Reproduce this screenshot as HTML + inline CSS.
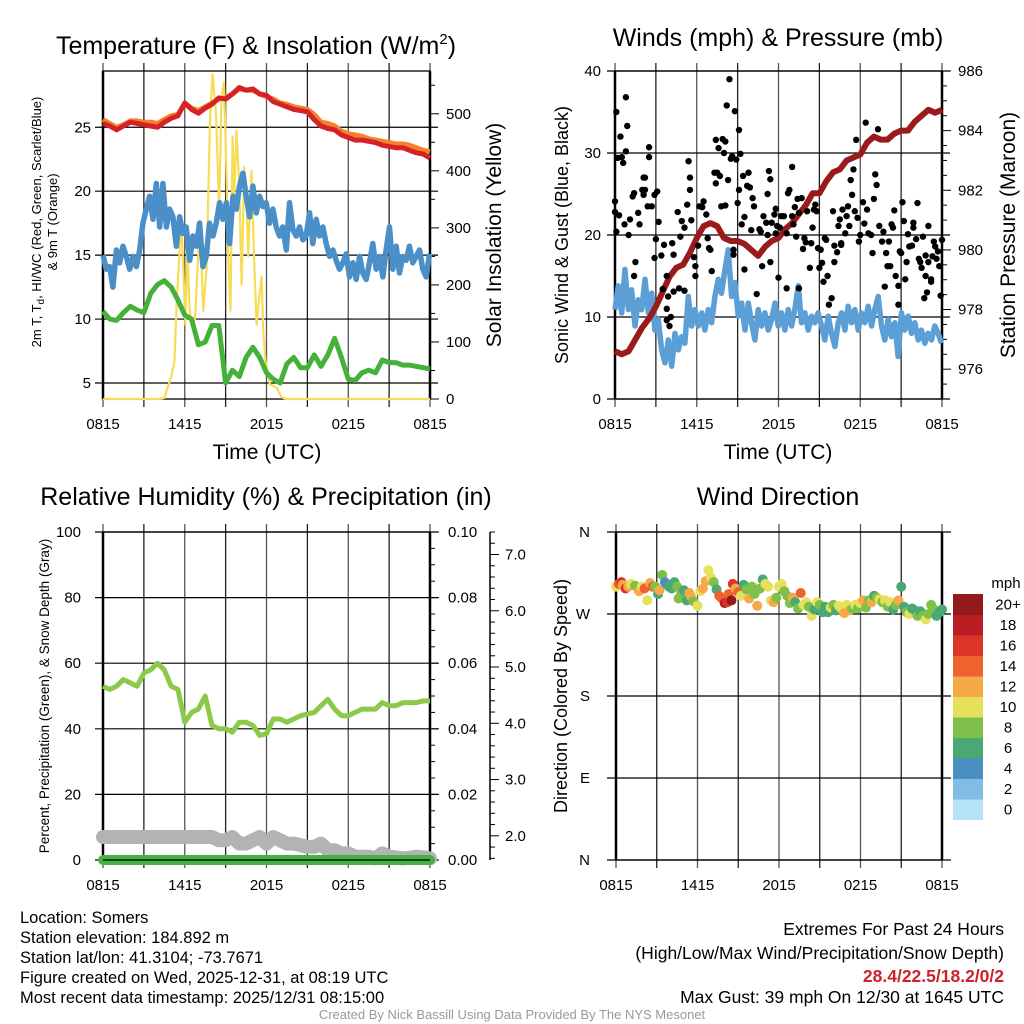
<!DOCTYPE html>
<html><head><meta charset="utf-8">
<style>
html,body{margin:0;padding:0;background:#fff;}
svg{display:block;font-family:"Liberation Sans",sans-serif;}
.ft{font-family:"Liberation Sans",sans-serif;font-size:16.5px;fill:#000;}
.fr{font-family:"Liberation Sans",sans-serif;font-size:17.5px;fill:#000;}
</style></head>
<body>
<svg id="c" width="1024" height="1024" viewBox="0 0 1024 1024" xmlns="http://www.w3.org/2000/svg">
<text class="ft" x="20" y="923">Location: Somers</text>
<text class="ft" x="20" y="943">Station elevation: 184.892 m</text>
<text class="ft" x="20" y="963">Station lat/lon: 41.3104; -73.7671</text>
<text class="ft" x="20" y="983">Figure created on Wed, 2025-12-31, at 08:19 UTC</text>
<text class="ft" x="20" y="1003">Most recent data timestamp: 2025/12/31 08:15:00</text>
<text class="fr" x="1004" y="935" text-anchor="end">Extremes For Past 24 Hours</text>
<text class="fr" x="1004" y="959" text-anchor="end">(High/Low/Max Wind/Precipitation/Snow Depth)</text>
<text class="fr" x="1004" y="982" text-anchor="end" style="fill:#cc2229;font-weight:bold">28.4/22.5/18.2/0/2</text>
<text class="fr" x="1004" y="1003" text-anchor="end">Max Gust: 39 mph On 12/30 at 1645 UTC</text>
<text class="ft" x="512" y="1019" text-anchor="middle" style="fill:#999;font-size:13px">Created By Nick Bassill Using Data Provided By The NYS Mesonet</text>
</svg>
<script>
const timeLabels=["0815","1415","2015","0215","0815"];
// Temperature panel (hours since 0815)
const tTimes=[0,0.5,1,1.5,2,2.5,3,3.5,4,4.5,5,5.5,6,6.5,7,7.5,8,8.5,9,9.5,10,10.5,11,11.5,12,12.5,13,13.5,14,14.5,15,15.5,16,16.5,17,17.5,18,18.5,19,19.5,20,20.5,21,21.5,22,22.5,23,23.5,24];
const tempRed=[25.3,25.1,24.8,25.1,25.4,25.3,25.2,25.1,25.0,25.4,25.7,25.9,26.9,26.4,26.1,26.5,26.8,27.3,27.2,27.6,28.1,27.9,28.0,27.6,27.5,27.0,26.8,26.6,26.4,26.3,26.2,25.6,25.1,24.9,24.8,24.4,24.2,24.0,24.0,23.9,23.8,23.6,23.5,23.4,23.4,23.2,23.0,22.9,22.6];
const temp9m=[25.6,25.3,25.0,25.2,25.5,25.5,25.4,25.4,25.3,25.6,25.9,26.0,26.9,26.5,26.3,26.6,26.9,27.2,27.3,27.6,28.0,27.9,27.9,27.6,27.4,27.2,26.9,26.8,26.6,26.5,26.4,26.0,25.4,25.3,25.1,24.7,24.5,24.4,24.3,24.1,24.0,23.9,23.8,23.7,23.7,23.6,23.4,23.2,23.1];
const dewGreen=[10.6,10.0,9.9,10.5,11.0,10.7,10.5,12.0,12.7,13.0,12.5,11.5,10.3,10.0,8.0,8.2,9.5,9.5,5.0,6.0,5.5,7.0,7.8,7.0,5.8,5.3,5.0,6.5,7.0,6.2,6.2,7.2,6.3,7.2,8.5,7.0,5.3,5.2,5.8,6.0,5.8,6.8,6.6,6.6,6.4,6.4,6.3,6.2,6.1];
const denseTimes=[0,0.24,0.49,0.73,0.98,1.22,1.47,1.71,1.96,2.2,2.45,2.69,2.93,3.18,3.42,3.67,3.91,4.16,4.4,4.65,4.89,5.13,5.38,5.62,5.87,6.11,6.36,6.6,6.85,7.09,7.33,7.58,7.82,8.07,8.31,8.56,8.8,9.05,9.29,9.54,9.78,10.02,10.27,10.51,10.76,11.0,11.25,11.49,11.74,11.98,12.22,12.47,12.71,12.96,13.2,13.45,13.69,13.94,14.18,14.43,14.67,14.91,15.16,15.4,15.65,15.89,16.14,16.38,16.63,16.87,17.11,17.36,17.6,17.85,18.09,18.34,18.58,18.83,19.07,19.32,19.56,19.8,20.05,20.29,20.54,20.78,21.03,21.27,21.52,21.76,22.0,22.25,22.49,22.74,22.98,23.23,23.47,23.72,23.96];
const chillBlue=[15,13.9,14.1,12.5,15.4,14.4,15.7,14.9,13.9,14.9,14.1,15.4,17.5,18.6,19.6,17.8,20.6,17.2,20.6,17.2,18.6,18.0,15.7,18.0,16.7,17.2,14.6,16.5,15.7,17.5,14.1,14.9,17.5,16.5,17.5,19.1,17.8,19.1,15.9,19.6,18.6,20.4,21.4,19.6,18.0,20.4,18.3,19.6,18.8,19.1,17.5,18.6,17.2,16.5,17.2,15.4,19.1,17.0,16.5,17.2,16.2,16.5,18.3,15.9,17.8,16.5,17.2,15.9,14.9,15.4,14.6,13.9,14.4,15.1,13.3,14.4,13.1,14.9,13.6,13.1,14.4,15.9,13.9,14.9,13.3,15.4,17.2,13.9,15.7,13.6,14.9,14.6,15.7,14.4,14.9,15.4,13.9,13.3,15.1];
const solarTimes=[0,4.0,4.5,4.75,5.0,5.25,5.4,5.6,5.75,5.9,6.05,6.19,6.35,6.5,6.75,7.11,7.36,7.6,7.85,8.04,8.29,8.53,8.7,8.88,9.07,9.19,9.36,9.51,9.63,9.8,10.0,10.17,10.37,10.54,10.66,10.9,11.08,11.27,11.47,11.64,11.76,11.93,12.25,12.74,13.1,13.47,24];
const solar=[0,0,2,20,38,67,167,250,313,225,130,270,160,130,140,313,155,230,490,570,500,330,530,555,385,250,155,460,355,470,372,200,407,343,250,400,250,130,180,215,120,67,26,20,3,0,0];
// Winds panel
const pressure=[976.6,976.5,976.6,977.0,977.4,977.7,978.1,978.6,979.1,979.4,979.5,979.9,980.4,980.8,980.9,980.8,980.4,980.3,980.3,980.2,980.0,979.8,980.1,980.3,980.4,980.7,980.9,981.2,981.5,981.9,981.9,982.3,982.6,982.7,983.0,983.1,983.2,983.6,983.8,983.7,983.7,983.9,984.0,984.0,984.3,984.5,984.7,984.6,984.7];
const windBlue=[10.9,13.8,10.5,15.8,10.9,13.3,8.9,12.1,10.9,14.6,10.5,12.9,8.4,9.7,6.0,4.4,7.2,4.0,8.0,6.0,7.6,6.8,12.5,8.9,10.9,8.9,10.5,8.4,10.9,9.3,12.5,14.6,12.9,15.8,18.2,12.5,14.2,10.1,11.7,8.4,11.7,9.3,7.2,10.9,8.9,10.5,8.4,9.7,11.7,8.9,10.5,8.4,10.9,8.9,10.9,13.8,9.3,10.5,8.4,10.1,9.3,10.5,8.9,7.2,10.1,8.0,6.4,9.3,10.5,8.4,11.3,9.3,10.9,8.4,10.5,9.3,11.3,8.9,10.9,12.5,8.9,7.2,9.7,7.6,9.3,5.2,10.5,8.4,10.1,8.0,9.3,7.2,8.4,6.8,8.0,7.2,8.9,8.0,6.8];
const gustTimes=[0,0,0.1,0.1,0.3,0.4,0.2,0.5,0.8,0.6,0.9,0.8,0.7,1.0,1.1,1.3,1.4,1.5,1.4,1.7,1.8,2.0,2.1,2.2,2.2,2.1,2.4,2.5,2.5,2.7,2.9,2.9,3.1,3.2,3.0,3.4,3.5,3.6,3.8,3.9,3.8,3.8,4.0,4.1,4.3,4.2,4.3,4.6,4.7,4.9,4.8,5.1,5.1,5.3,5.4,5.5,5.5,5.6,5.8,5.9,5.9,6.1,6.2,6.4,6.5,6.7,6.8,6.9,7.0,7.1,7.3,7.4,7.5,7.4,7.6,7.7,7.8,7.9,8.0,8.1,8.1,8.2,8.3,8.4,8.5,8.6,8.7,8.7,8.8,8.9,9.0,9.1,9.1,9.2,9.3,9.4,9.5,9.5,9.7,9.8,9.9,10.0,10.1,10.2,10.4,10.6,10.7,10.8,10.9,11.1,11.3,11.4,11.2,11.2,11.4,11.5,11.7,11.8,11.8,11.9,12.0,12.1,12.2,12.4,12.6,12.6,12.7,12.8,13.0,13.0,13.1,13.3,13.2,13.4,13.5,13.5,13.7,13.8,13.9,14.0,14.1,14.3,14.4,14.5,14.6,14.7,14.8,14.9,15.0,15.1,15.2,15.3,15.5,15.4,15.6,15.7,15.9,16.0,16.1,16.1,16.3,16.4,16.5,16.6,16.6,16.7,16.9,17.0,17.1,17.2,17.3,17.4,17.5,17.6,17.7,17.8,17.9,18.0,18.2,18.3,18.4,18.5,18.6,18.8,18.9,19.0,19.1,19.2,19.3,19.4,19.6,19.7,19.8,19.9,20.0,20.1,20.2,20.3,20.4,20.5,20.6,20.8,20.8,20.9,21.0,21.1,21.2,21.3,21.4,21.5,21.6,21.8,21.9,21.9,22.1,22.2,22.3,22.4,22.5,22.6,22.7,22.8,22.9,22.8,23.0,23.0,23.2,23.2,23.3,23.4,23.5,23.6,23.7,23.8,23.9,24.0];
const gustValues=[22.8,24.1,20.4,35,22.4,32,29.4,29.5,36.8,28.8,33.3,30.2,21.3,20,21.9,24.7,25.1,16.7,15,22.7,21.3,25.5,27,25.5,27,24.9,23.5,29.5,30.7,23.5,24.9,17.2,25.3,21.6,19.5,17.5,13.4,18.8,15,12.5,9.6,11,8.9,10,13.1,19,17.6,22.8,13.5,21.7,19.8,20.9,13.2,23.7,29,27,25.5,21.8,17.3,15,16.2,18.7,23.5,23.4,24.1,22.5,19.6,18.4,18.2,15.6,27.6,26.3,27.6,31.6,30.6,27.2,23.5,31.7,30,31.4,23.6,35.8,26.7,39,29.3,29.6,18.2,17.6,35.1,29.2,23.9,25.5,32.8,29.9,21.3,27.2,15.8,22.2,26,27.6,25.8,20.6,24.5,23.5,12.8,20.7,20.4,16.2,22.3,21.5,27.8,26.8,25,20,16.7,21.5,22.5,23.2,20.2,21.1,14.8,20.9,22.3,22.3,13.5,20.2,25.1,25.5,28.3,22.3,21.3,19.8,23.4,24.4,13.5,22.7,24.5,18.3,19.6,19.1,22.9,16,19,20.9,23.1,23.7,22.9,18.4,16,18.2,16.6,14.3,19.4,19.6,15,11.5,12.3,22.9,16.7,18.7,17.9,21.1,21.9,19,18.8,23.1,20.2,22.3,23.5,21.1,26.7,24.9,28,22.9,31.6,22.1,19.2,20,24,21.4,33.7,23.1,20.2,20,17.8,24.4,27.4,26.1,32.9,21.1,19.2,20.4,13.7,17.8,16.2,19.2,16.2,21.3,20.9,23,15,11.5,13.8,18,17.8,24,21.7,14.6,16.7,20.1,18.6,18.7,20.9,21.5,19.5,23.9,17.1,16.7,16,19.8,12.3,15,13,17.5,16.7,21.1,14.3,14.6,17.4,19.2,18.6,17.1,18,16.2,12.6,19.4];
// RH panel
const rhGreen=[53,52,53,55,54,53,57,58,60,58,53,52,42,45,46,50,41,40,40,39,42,42,41,38,38.5,43,43,42,43,44,44.5,45,47,49,46,44,44,45,46,46,46,48,47,47,48,48,48,48.5,48.5];
const snowGray=[7,7,7,7,7,7,7,7,7,7,7,7,7,7,7,7,7,6,6,7,5,5,6,7,5,7,6,5,5,4.5,4,4,5,3,3,2,2,1,1,1,0.5,2,1,0.8,0.5,0.7,1,0.8,0.5];
const precip=[0,0,0,0,0,0,0,0,0,0,0,0,0,0,0,0,0,0,0,0,0,0,0,0,0,0,0,0,0,0,0,0,0,0,0,0,0,0,0,0,0,0,0,0,0,0,0,0,0];
// Wind direction panel
const dirTimes=[0,0.2,0.4,0.5,0.7,0.9,1.1,1.4,1.7,1.9,2.1,2.3,2.5,2.7,2.9,3.1,3.2,3.4,3.6,3.7,3.9,4.1,4.3,4.5,4.6,4.8,5.0,5.2,5.4,5.5,5.7,6.0,6.2,6.4,6.6,6.8,7.0,7.2,7.4,7.6,7.8,8.0,8.2,8.3,8.5,8.6,8.8,9.0,9.2,9.4,9.6,9.8,10.0,10.2,10.4,10.6,10.8,11.0,11.2,11.4,11.6,11.8,12.0,12.2,12.4,12.6,12.8,13.0,13.2,13.4,13.6,13.8,14.0,14.2,14.4,14.6,14.8,15.0,15.2,15.4,15.6,15.8,16.0,16.2,16.4,16.6,16.8,17.0,17.2,17.4,17.6,17.8,18.0,18.2,18.4,18.6,18.8,19.0,19.2,19.4,19.6,19.8,20.0,20.2,20.4,20.6,20.8,21.0,21.2,21.4,21.6,21.8,22.0,22.2,22.4,22.6,22.8,23.0,23.2,23.4,23.6,23.8,24.0];
const dirValues=[300,303,305,302,298,300,303,301,295,300,298,285,304,300,300,292,296,313,305,303,300,298,305,300,287,292,296,285,293,290,284,279,295,298,306,318,310,305,297,290,287,282,283,292,285,303,298,294,290,302,297,287,300,292,279,298,308,303,300,285,283,288,300,303,295,290,282,288,283,276,293,280,283,278,268,275,283,280,272,278,272,277,280,274,279,276,271,280,274,276,280,276,282,285,277,285,283,290,288,286,283,285,278,283,275,280,285,300,278,272,270,276,274,268,273,268,264,270,280,275,268,272,275];
const dirSpeeds=[10,14,16,12,16,12,10,8,12,10,14,10,12,14,8,6,12,8,4,4,6,6,6,8,8,8,6,6,12,12,8,10,10,12,12,10,10,8,6,14,14,18,16,14,20,16,12,14,10,6,8,12,8,8,12,8,6,10,10,10,12,8,10,10,8,8,8,12,6,8,14,10,10,8,10,6,10,8,6,6,6,10,8,6,10,10,12,10,12,8,10,8,10,12,8,8,12,6,8,10,8,10,8,10,6,8,12,6,6,8,10,6,6,8,6,8,10,8,8,8,6,6,6];
const speedColors=["#b5e2f6","#80bce3","#4a8fc4","#4aa874","#7fc04a","#e6e05a","#f5a947","#ef6230","#dd3328","#bb1c24","#921a1c"];
const speedLabels=["0","2","4","6","8","10","12","14","16","18","20+"];

const NS="http://www.w3.org/2000/svg";
const svg=document.getElementById('c');
function mk(tag,attrs,parent){const e=document.createElementNS(NS,tag);for(const k in attrs)e.setAttribute(k,attrs[k]);(parent||svg).appendChild(e);return e;}
function txt(s,x,y,size,anchor,extra){const e=mk('text',Object.assign({x:x,y:y,'font-size':size,'text-anchor':anchor||'middle',fill:'#000'},extra||{}));e.textContent=s;return e;}
function lin(d0,d1,r0,r1){return v=>r0+(v-d0)/(d1-d0)*(r1-r0);}
function pathOf(xs,ys,fx,fy){return xs.map((t,i)=>(i?'L':'M')+fx(t).toFixed(1)+','+fy(ys[i]).toFixed(1)).join('');}

function frame(L,R,T,B,xs){
  for(let k=0;k<=8;k++){const x=xs(k*3);
    const g=mk('line',{x1:x,y1:T-8,x2:x,y2:B+8,stroke:(k%2?'#222':'#555'),'stroke-width':1.3});
    
    }
  timeLabels.forEach((s,i)=>{const t=txt(s,xs(i*6),B+30,15);
    
    });
  const b=mk('rect',{x:L,y:T,width:R-L,height:B-T,fill:'none',stroke:'#000','stroke-width':1.3});
  
  
  mk('line',{x1:L,y1:T,x2:L,y2:B,stroke:'#000','stroke-width':2.5});
  mk('line',{x1:R,y1:T,x2:R,y2:B,stroke:'#000','stroke-width':2.5});
}
function hgrid(L,R,y,ext){const g=mk('line',{x1:L-ext,y1:y,x2:R+ext,y2:y,stroke:'#000','stroke-width':1.2});
  
  }

// ---------- Panel 1: Temperature ----------
(function(){
const L=103,R=430,T=71,B=399;
const xs=lin(0,24,L,R), ys=lin(3.75,29.4,B,T), ysR=lin(0,575,B,T);
const tt=txt('Temperature (F) & Insolation (W/m',256,54,25);


const sup=mk('tspan',{dy:-10,'font-size':15});sup.textContent='2';tt.appendChild(sup);
const cl=mk('tspan',{dy:10});cl.textContent=')';tt.appendChild(cl);
frame(L,R,T,B,xs);
[5,10,15,20,25].forEach(v=>{hgrid(L,R,ys(v),8);const t=txt(String(v),L-12,ys(v)+5,15,'end');
  
  });
for(let v=0;v<=550;v+=50){const y=ysR(v);mk('line',{x1:R,y1:y,x2:R+(v%100?5:9),y2:y,stroke:'#000'});}
[0,100,200,300,400,500].forEach(v=>{const t=txt(String(v),R+16,ysR(v)+5,15,'start');
  
  });
const sl=mk('path',{d:pathOf(solarTimes,solar,xs,ysR),fill:'none',stroke:'#f7dc55','stroke-width':2.2,'stroke-linejoin':'round'});


const bl=mk('path',{d:pathOf(denseTimes,chillBlue,xs,ys),fill:'none',stroke:'#4a8fc8','stroke-width':5.5,'stroke-linejoin':'round'});


const gl=mk('path',{d:pathOf(tTimes,dewGreen,xs,ys),fill:'none',stroke:'#45b03a','stroke-width':5,'stroke-linejoin':'round'});


const ol=mk('path',{d:pathOf(tTimes,temp9m,xs,ys),fill:'none',stroke:'#f5822a','stroke-width':5,'stroke-linejoin':'round'});


const rl=mk('path',{d:pathOf(tTimes,tempRed,xs,ys),fill:'none',stroke:'#d42228','stroke-width':5,'stroke-linejoin':'round'});


const xt=txt('Time (UTC)',267,459,21);


const yt=txt('2m T, T',0,0,13,'middle',{transform:'translate(41,222) rotate(-90)'});


const sb=mk('tspan',{'font-size':10,dy:3});sb.textContent='d';yt.appendChild(sb);
const rs=mk('tspan',{dy:-3});rs.textContent=', HI/WC (Red, Green, Scarlet/Blue)';yt.appendChild(rs);
const yt2=txt('& 9m T (Orange)',0,0,13,'middle',{transform:'translate(57,222) rotate(-90)'});


const yr=txt('Solar Insolation (Yellow)',0,0,21,'middle',{transform:'translate(501,235) rotate(-90)'});


})();

// ---------- Panel 2: Winds ----------
(function(){
const L=615,R=942,T=71,B=399;
const xs=lin(0,24,L,R), ys=lin(0,40,B,T), ysR=lin(975,986,B,T);
const tt=txt('Winds (mph) & Pressure (mb)',778,46,25);


frame(L,R,T,B,xs);
[0,10,20,30,40].forEach(v=>{hgrid(L,R,ys(v),8);const t=txt(String(v),L-14,ys(v)+5,15,'end');
  
  });
for(let v=975;v<=986;v+=0.5){const y=ysR(v);mk('line',{x1:R,y1:y,x2:R+(v%2===0?9:5),y2:y,stroke:'#000'});}
[976,978,980,982,984,986].forEach(v=>{const t=txt(String(v),R+16,ysR(v)+5,15,'start');
  
  });
const wl=mk('path',{d:pathOf(denseTimes,windBlue,xs,ys),fill:'none',stroke:'#5b9fd6','stroke-width':5.5,'stroke-linejoin':'round'});


const pl=mk('path',{d:pathOf(tTimes,pressure,xs,ysR),fill:'none',stroke:'#9b1a1c','stroke-width':6,'stroke-linejoin':'round'});


gustTimes.forEach((t,i)=>{const c=mk('circle',{cx:xs(t),cy:ys(gustValues[i]),r:3.2,fill:'#000'});
  
  });
const xt=txt('Time (UTC)',778,459,21);


const yt=txt('Sonic Wind & Gust (Blue, Black)',0,0,18,'middle',{transform:'translate(568,235) rotate(-90)'});


const yr=txt('Station Pressure (Maroon)',0,0,21,'middle',{transform:'translate(1015,235) rotate(-90)'});


})();

// ---------- Panel 3: RH ----------
(function(){
const L=103,R=430,T=532,B=860;
const xs=lin(0,24,L,R), ys=lin(0,100,B,T), ysP=lin(0,0.1,B,T), ysS=lin(1.57,7.4,B,T);
const tt=txt('Relative Humidity (%) & Precipitation (in)',266,505,25);


frame(L,R,T,B,xs);
[0,20,40,60,80,100].forEach(v=>{hgrid(L,R,ys(v),8);const t=txt(String(v),L-22,ys(v)+5,15,'end');
  
  });
for(let v=0;v<=0.1001;v+=0.005){const y=ysP(v);mk('line',{x1:R,y1:y,x2:R+(Math.round(v*1000)%20?5:9),y2:y,stroke:'#000'});}
[0,0.02,0.04,0.06,0.08,0.10].forEach(v=>{const t=txt(v.toFixed(2),R+18,ysP(v)+5,15,'start');
  
  });
mk('line',{x1:490,y1:532,x2:490,y2:860,stroke:'#000','stroke-width':1.5});
for(let v=1.6;v<=7.41;v+=0.2){const y=ysS(v);const mj=Math.abs(v-Math.round(v))<0.01;mk('line',{x1:490,y1:y,x2:490+(mj?9:5),y2:y,stroke:'#000'});}
[2,3,4,5,6,7].forEach(v=>{const t=txt(v.toFixed(1),505,ysS(v)+5,15,'start');
  
  });
const sg=mk('path',{d:pathOf(tTimes,snowGray,xs,ys),fill:'none',stroke:'#b3b3b3','stroke-width':14,'stroke-linejoin':'round','stroke-linecap':'round'});


const pr=mk('path',{d:pathOf(tTimes,precip,xs,ysP),fill:'none',stroke:'#44b140','stroke-width':10,'stroke-linecap':'round'});


mk('line',{x1:L,y1:B,x2:R,y2:B,stroke:'#000','stroke-width':1.2});
const rh=mk('path',{d:pathOf(tTimes,rhGreen,xs,ys),fill:'none',stroke:'#8bc94a','stroke-width':5,'stroke-linejoin':'round'});


const yt=txt('Percent, Precipitation (Green), & Snow Depth (Gray)',0,0,13.5,'middle',{transform:'translate(49,696) rotate(-90)'});


})();

// ---------- Panel 4: Wind direction ----------
(function(){
const L=616,R=942,T=532,B=860;
const xs=lin(0,24,L,R), ys=lin(0,360,B,T);
const tt=txt('Wind Direction',778,505,25);


frame(L,R,T,B,xs);
const dirLabels=['N','E','S','W','N'];
[0,90,180,270,360].forEach((v,i)=>{hgrid(L,R,ys(v),9);const t=txt(dirLabels[i],L-26,ys(v)+5,15,'end');
  
  });
dirTimes.forEach((t,i)=>{const bin=Math.min(10,Math.floor(dirSpeeds[i]/2));
  const c=mk('circle',{cx:xs(t),cy:ys(dirValues[i]),r:5,fill:speedColors[bin]});
  
  });
const yt=txt('Direction (Colored By Speed)',0,0,18,'middle',{transform:'translate(567,696) rotate(-90)'});


const lt=txt('mph',1006,588,15);


const bh=20.5;
speedColors.forEach((col,i)=>{const y=594+(10-i)*bh;
  const r=mk('rect',{x:953,y:y,width:30,height:bh+0.5,fill:col});
  
  
  const t=txt(speedLabels[i],1008,y+bh/2+5,15);
  
  });
})();
</script>
</body></html>
